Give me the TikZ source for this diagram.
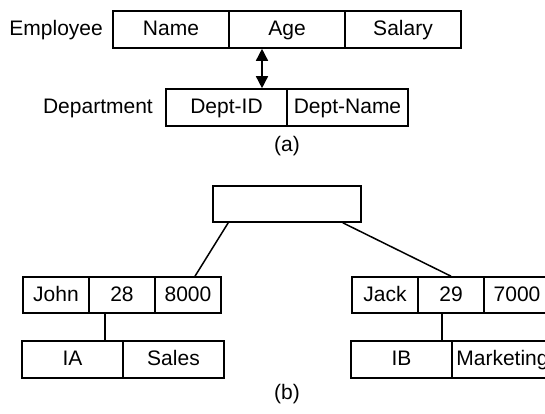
\documentclass[tikz,border=0pt]{standalone}
\usepackage{fontspec}
\setmainfont{Liberation Sans}
\usetikzlibrary{arrows.meta,calc}

\tikzset{
    txt/.style={inner sep=0pt, text height=14.5pt, text depth=2.5pt,
        font=\fontsize{21}{25}\selectfont},
    cell/.style={txt, draw, line width=1.6pt, minimum height=37pt},
    link/.style={line width=1.5pt},
    dblarrow/.style={link, {Triangle[width=12pt,length=12pt]}-{Triangle[width=12pt,length=12pt]}}
}

\begin{document}
\begin{tikzpicture}[x=1pt, y=-1pt]
    \clip (0,0) rectangle (545,414);
    % (a) schema
    \foreach \t/\n [count=\i] in {Name/name, Age/age, Salary/sal}
        \node[cell, minimum width=116pt] (\n) at (55+116*\i, 29.5) {\t};
    \node[cell, minimum width=121pt] (deptid) at (226.5,107.5) {Dept-ID};
    \node[cell, minimum width=121pt] (dname) at (347.5,107.5) {Dept-Name};
    \node[txt, anchor=east] (emp) at (103,29.5) {Employee};
    \node[txt, anchor=east] (dept) at (153,107.5) {Department};
    \coordinate (ax) at (262,0);
    \draw[dblarrow] (age.south -| ax) -- (deptid.north -| ax);
    \node[txt] (capa) at (287,145) {(a)};
    % (b) instances
    \node[cell, minimum width=148pt, minimum height=36pt] (root) at (287,204) {};
    \foreach \t/\n [count=\i] in {John/john, 28/agej, 8000/salj}
        \node[cell, minimum width=66pt, minimum height=36pt] (\n) at (-10+66*\i, 295) {\t};
    \foreach \t/\n [count=\i] in {Jack/jack, 29/agek, 7000/salk}
        \node[cell, minimum width=66pt, minimum height=36pt] (\n) at (319+66*\i, 295) {\t};
    \node[cell, minimum width=101pt] (ia) at (72.5,359.5) {IA};
    \node[cell, minimum width=101pt] (sales) at (173.5,359.5) {Sales};
    \node[cell, minimum width=101pt] (ib) at (401.5,359.5) {IB};
    \node[cell, minimum width=101pt] (mkt) at (502.5,359.5) {Marketing};
    \draw[link] ($(root.south west)+(16,0)$) -- ($(salj.north)+(7,0)$);
    \draw[link] ($(root.south east)+(-19,0)$) -- (agek.north);
    \coordinate (lx) at (105,0);
    \coordinate (rx) at (442,0);
    \draw[link] (agej.south -| lx) -- (ia.north -| lx);
    \draw[link] (agek.south -| rx) -- (ib.north -| rx);
    \node[txt] (capb) at (287,393) {(b)};
\end{tikzpicture}
\end{document}
